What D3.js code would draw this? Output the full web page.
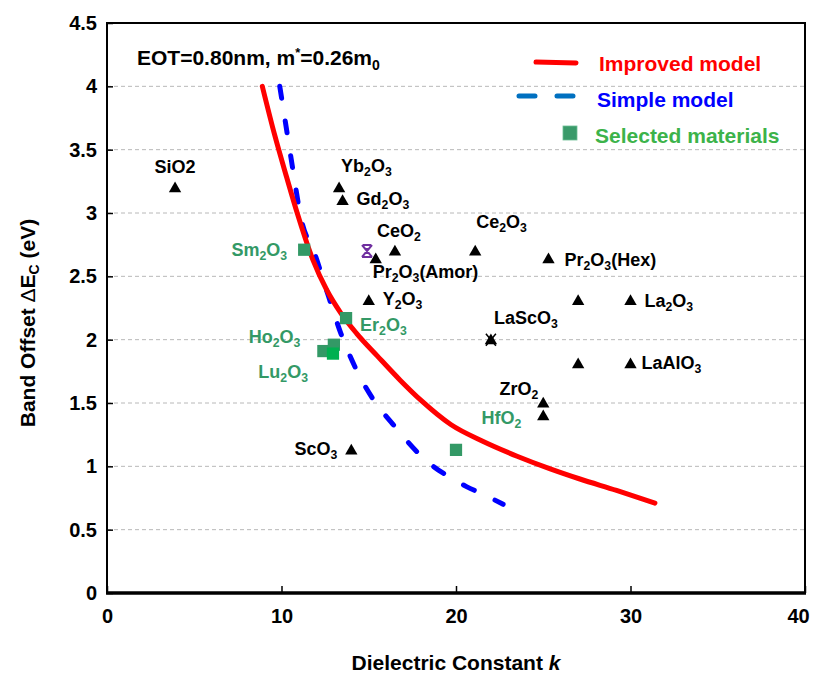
<!DOCTYPE html>
<html>
<head>
<meta charset="utf-8">
<script src="https://cdn.jsdelivr.net/npm/d3@7"></script>
<style>
  body { margin: 0; background: #fff; }
  svg text { font-family: "Liberation Sans", Arial, sans-serif; font-weight: bold; }
</style>
</head>
<body>
<div id="chart"></div>
<script>
// Improved model curve (k, band offset)
const improvedK = [8.9, 9.6, 10.3, 10.9, 11.8, 12.6, 13.4, 14.3, 15.5, 16.8, 18.0, 19.7, 21.5, 23.5, 25.4, 27.1, 29.2, 31.4];
const improvedE = [4.0, 3.62, 3.28, 3.0, 2.63, 2.39, 2.21, 2.05, 1.87, 1.68, 1.52, 1.33, 1.2, 1.08, 0.98, 0.90, 0.81, 0.71];

// Simple model curve
const simpleK = [9.9, 10.3, 10.7, 11.1, 11.9, 12.7, 13.4, 14.3, 15.3, 16.4, 17.8, 18.7, 19.7, 20.6, 21.7, 22.7];
const simpleE = [4.0, 3.65, 3.3, 2.97, 2.68, 2.34, 2.05, 1.76, 1.52, 1.33, 1.11, 1.0, 0.91, 0.84, 0.77, 0.70];

// Reported oxides (black triangles)
const oxideNames = ["SiO2", "Yb_2O_3", "Gd_2O_3", "CeO_2", "Pr_2O_3(Amor)", "Ce_2O_3", "Pr_2O_3(Hex)", "Y_2O_3",
                    "", "La_2O_3", "LaScO_3", "", "LaAlO_3", "ZrO_2", "HfO_2", "ScO_3"];
const oxideK = [3.9, 13.3, 13.5, 16.5, 15.4, 21.1, 25.3, 15.0, 27.0, 30.0, 22.0, 27.0, 30.0, 25.0, 25.0, 14.0];
const oxideE = [3.2, 3.2, 3.1, 2.7, 2.64, 2.7, 2.64, 2.31, 2.31, 2.31, 2.0, 1.81, 1.81, 1.5, 1.4, 1.13];

// Selected materials (green squares)
const selNames = ["Sm_2O_3", "Er_2O_3", "Ho_2O_3", "", "Lu_2O_3", ""];
const selK = [11.3, 13.7, 12.4, 13.0, 12.95, 20.0];
const selE = [2.71, 2.17, 1.91, 1.96, 1.89, 1.13];

// extra overlay marks
const purpleK = [14.9], purpleE = [2.70];

const yTicks = [0, 0.5, 1, 1.5, 2, 2.5, 3, 3.5, 4, 4.5];
const xTicks = [0, 10, 20, 30, 40];

// label placement relative to the marker (px)
const oxideLabelPos = [
  {dx: 0, dy: -15, anchor: "middle"},
  {dx: 2, dy: -16, anchor: "start"},
  {dx: 14, dy: 5, anchor: "start"},
  {dx: -18, dy: -14, anchor: "start"},
  {dx: -3, dy: 19, anchor: "start"},
  {dx: 1, dy: -23, anchor: "start"},
  {dx: 16, dy: 7, anchor: "start"},
  {dx: 14, dy: 5, anchor: "start"},
  null,
  {dx: 14, dy: 7, anchor: "start"},
  {dx: 3, dy: -16, anchor: "start"},
  null,
  {dx: 11, dy: 5, anchor: "start"},
  {dx: -5, dy: -8, anchor: "end"},
  {dx: -22, dy: 8, anchor: "end"},
  {dx: -14, dy: 5, anchor: "end"}
];
const selLabelPos = [
  {dx: -17, dy: 6},
  {dx: 14, dy: 13, anchor: "start"},
  {dx: -23, dy: -8},
  null,
  {dx: -25, dy: 24},
  null
];

const width = 815, height = 674;
const margin = {top: 23, right: 10, bottom: 81, left: 107};

const svg = d3.select("#chart")
  .append("svg")
  .attr("width", width)
  .attr("height", height);

const x = d3.scaleLinear().domain([0, 40]).range([margin.left, width - margin.right]);
const y = d3.scaleLinear().domain([0, 4.5]).range([height - margin.bottom, margin.top]);

// dashed grid
svg.append("g")
  .selectAll("line")
  .data(yTicks.filter(d => d > 0 && d < 4.5))
  .enter()
  .append("line")
  .attr("x1", x(0)).attr("x2", x(40))
  .attr("y1", d => y(d)).attr("y2", d => y(d))
  .attr("stroke", "#b8b8b8")
  .attr("stroke-width", 1)
  .attr("stroke-dasharray", "4,3");

// axes
const yAxis = svg.append("g")
  .attr("transform", `translate(${x(0)},0)`)
  .call(d3.axisLeft(y).tickValues(yTicks).tickFormat(d3.format("")).tickSizeInner(-6).tickSizeOuter(0).tickPadding(10));
yAxis.select(".domain").remove();
yAxis.selectAll("line").attr("stroke", "#000").attr("stroke-width", 1.5);
yAxis.selectAll("text").attr("font-size", 20).style("font-size", "20px").attr("fill", "#000");

const xAxis = svg.append("g")
  .attr("transform", `translate(0,${y(0)})`)
  .call(d3.axisBottom(x).tickValues(xTicks).tickSizeInner(-7).tickSizeOuter(0).tickPadding(16));
xAxis.select(".domain").remove();
xAxis.selectAll("line").attr("stroke", "#000").attr("stroke-width", 1.5);
xAxis.selectAll("text").attr("font-size", 20).style("font-size", "20px").attr("fill", "#000")
  .attr("dx", d => d === 40 ? -7 : 0);

// frame
svg.append("rect")
  .attr("x", x(0)).attr("y", y(4.5))
  .attr("width", x(40) - x(0)).attr("height", y(0) - y(4.5))
  .attr("fill", "none").attr("stroke", "#000").attr("stroke-width", 2);
svg.append("line")
  .attr("x1", x(0) - 1).attr("x2", x(40) + 1)
  .attr("y1", y(0)).attr("y2", y(0))
  .attr("stroke", "#000").attr("stroke-width", 3.5);

// curves
const curveLine = d3.line().x(d => x(d[0])).y(d => y(d[1])).curve(d3.curveMonotoneX);

svg.append("path")
  .datum(simpleK.map((k, i) => [k, simpleE[i]]))
  .attr("d", curveLine)
  .attr("fill", "none")
  .attr("stroke", "#0000ff")
  .attr("stroke-width", 5)
  .attr("stroke-linecap", "round")
  .attr("stroke-dasharray", "12,23");

svg.append("path")
  .datum(improvedK.map((k, i) => [k, improvedE[i]]))
  .attr("d", curveLine)
  .attr("fill", "none")
  .attr("stroke", "#ff0000")
  .attr("stroke-width", 5)
  .attr("stroke-linecap", "round")
  .attr("stroke-linejoin", "round");

// helper for chemical formulas: "_2" is subscript
function formula(sel, s, size) {
  const parts = s.split(/(_\d)/).filter(p => p.length);
  let shift = 0;
  parts.forEach(p => {
    if (p[0] === "_") {
      sel.append("tspan").attr("dy", 4 - shift).attr("font-size", size * 0.68)
        .style("font-size", (size * 0.68) + "px").text(p.slice(1));
      shift = 4;
    } else {
      sel.append("tspan").attr("dy", -shift).attr("font-size", size)
        .style("font-size", size + "px").text(p);
      shift = 0;
    }
  });
}

const tri = d3.symbol().type(d3.symbolTriangle).size(66);
const sq = d3.symbol().type(d3.symbolSquare).size(150);

// triangles
const oxides = oxideNames.map((n, i) => ({name: n, k: oxideK[i], e: oxideE[i], pos: oxideLabelPos[i]}));
svg.append("g")
  .selectAll("path")
  .data(oxides)
  .enter()
  .append("path")
  .attr("d", tri)
  .attr("transform", d => `translate(${x(d.k)},${y(d.e) + 1})`)
  .attr("fill", "#000");

// purple mark
purpleK.forEach((k, i) => {
  const g = svg.append("g").attr("transform", `translate(${x(k)},${y(purpleE[i])})`);
  g.append("path").attr("d", "M-5,-6L5,6M5,-6L-5,6M-4,-6H4M-5,6H5M0,-3V3")
    .attr("stroke", "#7030a0").attr("stroke-width", 2);
});

// black cross over LaScO3
{
  const d = oxides[10];
  svg.append("path")
    .attr("transform", `translate(${x(d.k)},${y(d.e)})`)
    .attr("d", "M-5,-6L5,6M5,-6L-5,6")
    .attr("stroke", "#000").attr("stroke-width", 1.5);
}

// green squares
const selected = selNames.map((n, i) => ({name: n, k: selK[i], e: selE[i], pos: selLabelPos[i]}));
svg.append("g")
  .selectAll("path")
  .data(selected)
  .enter()
  .append("path")
  .attr("d", sq)
  .attr("transform", d => `translate(${x(d.k)},${y(d.e)})`)
  .attr("fill", (d, i) => i === 4 ? "#00b050" : "#339966");

// labels
oxides.forEach(d => {
  if (!d.pos) return;
  const t = svg.append("text")
    .attr("x", x(d.k) + d.pos.dx)
    .attr("y", y(d.e) + d.pos.dy)
    .attr("text-anchor", d.pos.anchor)
    .attr("font-size", 18)
    .style("font-size", "18px")
    .attr("fill", d.name === "HfO_2" ? "#339966" : "#000");
  formula(t, d.name, 18);
});
selected.forEach(d => {
  if (!d.pos) return;
  const t = svg.append("text")
    .attr("x", x(d.k) + d.pos.dx)
    .attr("y", y(d.e) + d.pos.dy)
    .attr("text-anchor", d.pos.anchor || "end")
    .attr("font-size", 18)
    .style("font-size", "18px")
    .attr("fill", "#339966");
  formula(t, d.name, 18);
});

// annotation
const eot = svg.append("text")
  .attr("x", 137).attr("y", 65)
  .attr("font-size", 21)
  .style("font-size", "21px")
  .attr("fill", "#000");
eot.append("tspan").attr("font-size", 21).text("EOT=0.80nm, m");
eot.append("tspan").attr("dy", -8).attr("font-size", 13).style("font-size", "13px").text("*");
eot.append("tspan").attr("dy", 8).attr("font-size", 21).text("=0.26m");
eot.append("tspan").attr("dy", 5).attr("font-size", 14).style("font-size", "14px").text("0");

// legend
const legend = svg.append("g");
legend.append("line")
  .attr("x1", 536).attr("x2", 576).attr("y1", 62).attr("y2", 63)
  .attr("stroke", "#ff0000").attr("stroke-width", 5).attr("stroke-linecap", "round");
legend.append("text").attr("x", 599).attr("y", 71).attr("font-size", 21).style("font-size", "21px")
  .attr("fill", "#ff0000").text("Improved model");
legend.append("line")
  .attr("x1", 519).attr("x2", 576).attr("y1", 96).attr("y2", 96)
  .attr("stroke", "#0070c0").attr("stroke-width", 5).attr("stroke-linecap", "round")
  .attr("stroke-dasharray", "16,22");
legend.append("text").attr("x", 597).attr("y", 107).attr("font-size", 21).style("font-size", "21px")
  .attr("fill", "#0000ff").text("Simple model");
legend.append("rect")
  .attr("x", 563).attr("y", 126).attr("width", 14).attr("height", 14)
  .attr("fill", "#3a9a6a").attr("stroke", "#6cbf94").attr("stroke-width", 0.8);
legend.append("text").attr("x", 595).attr("y", 143).attr("font-size", 21).style("font-size", "21px")
  .attr("fill", "#3cb34a").text("Selected materials");

// axis titles
const xt = svg.append("text")
  .attr("x", (x(0) + x(40)) / 2)
  .attr("y", 670)
  .attr("text-anchor", "middle")
  .attr("font-size", 21)
  .style("font-size", "21px");
xt.append("tspan").attr("font-size", 21).text("Dielectric Constant ");
xt.append("tspan").attr("font-size", 21).style("font-style", "italic").text("k");

const yt = svg.append("text")
  .attr("transform", "rotate(-90)")
  .attr("x", -323)
  .attr("y", 35)
  .attr("text-anchor", "middle")
  .attr("font-size", 21)
  .style("font-size", "21px");
yt.append("tspan").attr("font-size", 21).text("Band Offset ");
yt.append("tspan").attr("font-size", 21).style("font-weight", "normal").text("\u0394");
yt.append("tspan").attr("font-size", 21).text("E");
yt.append("tspan").attr("dy", 4).attr("font-size", 14).style("font-size", "14px").text("C");
yt.append("tspan").attr("dy", -4).attr("font-size", 21).text(" (eV)");
</script>
</body>
</html>
